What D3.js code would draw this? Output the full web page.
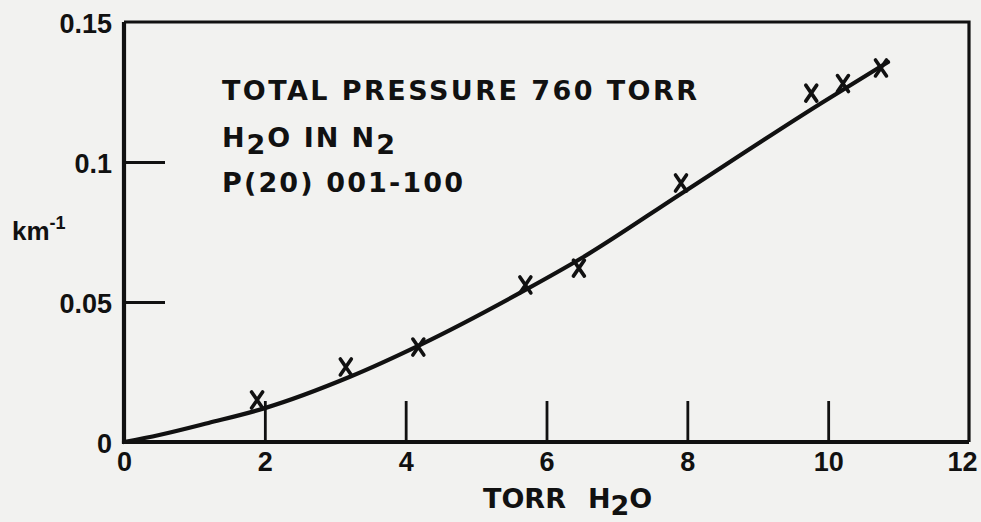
<!DOCTYPE html>
<html>
<head>
<meta charset="utf-8">
<script src="https://cdn.jsdelivr.net/npm/d3@7"></script>
<style>
  html, body { margin: 0; padding: 0; background: #f2f2f0; }
  svg { display: block; }
  text { font-family: "DejaVu Sans", sans-serif; font-weight: bold; fill: #111; }
</style>
</head>
<body>
<svg id="chart" width="981" height="522"></svg>
<script>
// ---- data ----
const xTickValues = [0, 2, 4, 6, 8, 10, 12];
const xTickLabels = ["0", "2", "4", "6", "8", "10", "12"];
const yTickValues = [0, 0.05, 0.1, 0.15];
const yTickLabels = ["0", "0.05", "0.1", "0.15"];

// measured points (torr H2O, km^-1)
const pointX = [1.89, 3.15, 4.18, 5.70, 6.46, 7.91, 9.76, 10.21, 10.75];
const pointY = [0.0150, 0.0268, 0.0339, 0.0561, 0.0621, 0.0925, 0.1246, 0.1280, 0.1336];

// fitted curve
const curveX = [0, 0.5, 1.2, 2.0, 3.2, 4.2, 5.7, 6.5, 7.9, 9.9, 10.85];
const curveY = [0, 0.0025, 0.0068, 0.0121, 0.0232, 0.0346, 0.0543, 0.0657, 0.0885, 0.1210, 0.1357];

const annotation = ["TOTAL PRESSURE 760 TORR", "H2O IN N2", "P(20) 001-100"];

// ---- layout ----
const svg = d3.select("#chart");
const mLeft = 124, mRight = 969, mTop = 22, mBottom = 442;
const ink = "#111";
const tickFont = '"Liberation Sans", Arial, sans-serif';

const x = d3.scaleLinear().domain([0, 12]).range([mLeft, mRight]);
const y = d3.scaleLinear().domain([0, 0.15]).range([mBottom, mTop]);

// frame
svg.append("path")
  .attr("d", `M${mLeft},${mTop}H${mRight}V${mBottom}`)
  .attr("fill", "none").attr("stroke", ink).attr("stroke-width", 3.2);

// inner ticks (x)
const gxTicks = svg.append("g").attr("transform", `translate(0,${mBottom})`)
  .call(d3.axisBottom(x).tickValues(xTickValues.slice(1, -1)).tickSize(-41).tickFormat(""));
gxTicks.select(".domain").remove();
gxTicks.selectAll("line").attr("stroke", ink).attr("stroke-width", 2.8);

// inner ticks (y)
const gyTicks = svg.append("g").attr("transform", `translate(${mLeft},0)`)
  .call(d3.axisRight(y).tickValues(yTickValues.slice(1, -1)).tickSize(41).tickFormat(""));
gyTicks.select(".domain").remove();
gyTicks.selectAll("line").attr("stroke", ink).attr("stroke-width", 2.8);

// x tick labels
const gx = svg.append("g").attr("transform", `translate(0,${mBottom})`)
  .call(d3.axisBottom(x).tickValues(xTickValues).tickSize(0).tickPadding(10)
    .tickFormat((d, i) => xTickLabels[i]));
gx.select(".domain").remove();
gx.selectAll("text").attr("font-size", 27).style("font-family", tickFont)
  .style("font-weight", "bold").attr("fill", ink);
// last label sits just inside the right edge, as in the original
gx.selectAll("text").filter((d, i) => i === xTickValues.length - 1)
  .attr("text-anchor", "end").attr("dx", 8);

// y tick labels
const gy = svg.append("g").attr("transform", `translate(${mLeft},0)`)
  .call(d3.axisLeft(y).tickValues(yTickValues).tickSize(0).tickPadding(12)
    .tickFormat((d, i) => yTickLabels[i]));
gy.select(".domain").remove();
gy.selectAll("text").attr("font-size", 27).attr("dy", "0.4em").style("font-family", tickFont)
  .style("font-weight", "bold").attr("fill", ink);

// main axes lines (heavier)
svg.append("path")
  .attr("d", `M${mLeft},${mTop}V${mBottom}H${mRight}`)
  .attr("fill", "none").attr("stroke", ink).attr("stroke-width", 4.2);

// curve
const line = d3.line().x(d => x(d[0])).y(d => y(d[1])).curve(d3.curveMonotoneX);
svg.append("path")
  .datum(curveX.map((v, i) => [v, curveY[i]]))
  .attr("d", line)
  .attr("fill", "none").attr("stroke", ink).attr("stroke-width", 4.2)
  .attr("stroke-linecap", "round");

// X markers
const markerPath = "M-5.5,-8L5.5,8M5.5,-8L-5.5,8";
svg.append("g").selectAll("path")
  .data(pointX.map((v, i) => [v, pointY[i]]))
  .join("path")
  .attr("transform", d => `translate(${x(d[0])},${y(d[1])})`)
  .attr("d", markerPath)
  .attr("fill", "none").attr("stroke", ink).attr("stroke-width", 3.6)
  .attr("stroke-linecap", "round");

// annotation text
const ann = svg.append("g");
ann.append("text").attr("x", 222).attr("y", 100).attr("font-size", 27)
  .attr("textLength", 475).attr("lengthAdjust", "spacing").text(annotation[0]);

const t2 = ann.append("text").attr("x", 222).attr("y", 147).attr("font-size", 27)
  .attr("textLength", 173).attr("lengthAdjust", "spacing");
t2.append("tspan").text("H");
t2.append("tspan").attr("dy", 7).text("2");
t2.append("tspan").attr("dy", -7).text("O IN N");
t2.append("tspan").attr("dy", 7).text("2");

ann.append("text").attr("x", 222).attr("y", 192).attr("font-size", 27)
  .attr("textLength", 241).attr("lengthAdjust", "spacing").text(annotation[2]);

// y axis unit label
const yl = svg.append("text").attr("x", 12).attr("y", 240).attr("font-size", 26)
  .style("font-family", tickFont);
yl.append("tspan").text("km");
yl.append("tspan").attr("dy", -11).attr("font-size", 18).text("-1");

// x axis title
const xt = svg.append("text").attr("x", 483).attr("y", 508).attr("font-size", 27);
xt.append("tspan").text("TORR");
xt.append("tspan").attr("dx", 22).text("H");
xt.append("tspan").attr("dy", 7).text("2");
xt.append("tspan").attr("dy", -7).text("O");
</script>
</body>
</html>
